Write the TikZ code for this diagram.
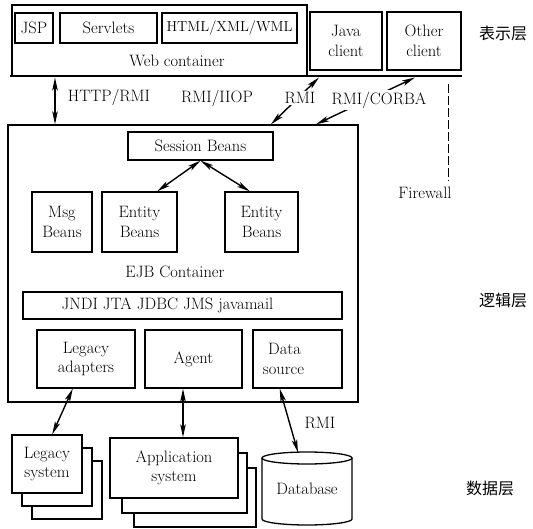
\documentclass[tikz,border=0pt]{standalone}
\usepackage{fontspec}
\newfontfamily\cjk{Noto Sans CJK SC}
\usetikzlibrary{arrows.meta}
\newcommand\fsz{\fontsize{16.5}{19.5}\selectfont}
\begin{document}
\begin{tikzpicture}[x=1pt,y=-1pt,
  box/.style={draw, line width=1.3pt, fill=white, align=center, inner sep=0pt, font=\fsz},
  txt/.style={inner sep=1pt, font=\fsz},
  lbl/.style={inner sep=1.5pt, fill=white, font=\fsz},
  dbl/.style={line width=1.4pt, {Stealth[length=13pt,width=5.5pt,inset=3pt]}-{Stealth[length=13pt,width=5.5pt,inset=3pt]}},
  layer/.style={inner sep=0pt, font=\cjk\fontsize{16}{18}\selectfont}]
\useasboundingbox (0,0) rectangle (533,529);

% ---------- presentation tier ----------
\node[box, minimum width=295, minimum height=71] (web) at (159.5,40.5) {};
\node[txt] (webl) at (177,61) {Web container};
\node[box, minimum width=38, minimum height=30] (jsp) at (34,28) {JSP};
\node[box, minimum width=97, minimum height=30] (serv) at (108.5,28) {Servlets};
\node[box, line width=1.7pt, minimum width=135, minimum height=30, font=\fontsize{14.5}{17}\selectfont] (html) at (229.5,28) {HTML/XML/WML};
\node[box, minimum width=72, minimum height=58] (java) at (346,41) {Java\\client};
\node[box, minimum width=74, minimum height=58] (other) at (424,41) {Other\\client};
\coordinate (busl) at (10,76);
\coordinate (busr) at (462,76);
\draw[line width=2.6pt] (busl) -- (busr);
\node[layer] (l1) at (503,33) {表示层};

% ---------- firewall ----------
\coordinate (fw1) at (448,84);
\coordinate (fw2) at (448,181);
\draw[line width=1pt, dash pattern=on 9pt off 3pt] (fw1) -- (fw2);
\node[txt] (fw) at (425,193) {Firewall};

% ---------- EJB container ----------
\node[box, minimum width=350, minimum height=277] (ejb) at (183,263.5) {};
\node[box, minimum width=145, minimum height=28] (sb) at (200.5,146) {Session Beans};
\node[box, minimum width=60, minimum height=60] (msg) at (62,222) {Msg\\Beans};
\node[box, minimum width=75, minimum height=60] (e1) at (139.5,222) {Entity\\Beans};
\node[box, minimum width=73, minimum height=60] (e2) at (261.5,222) {Entity\\Beans};
\node[txt] (ejbl) at (175,272) {EJB Container};
\node[box, minimum width=319, minimum height=27] (jndi) at (182.5,305.5) {JNDI JTA JDBC JMS javamail\hspace*{30pt}};
\node[box, minimum width=98, minimum height=58] (la) at (86,359) {Legacy\\adapters};
\node[box, minimum width=97, minimum height=58] (ag) at (193.5,359) {Agent};
\node[box, minimum width=89, minimum height=58] (ds) at (297.5,359) {Data\hspace*{26pt}\\source\hspace*{28pt}};
\node[layer] (l2) at (503,300) {逻辑层};

\draw[dbl] (sb.south) -- (e1.60);
\draw[dbl] (sb.south) -- (e2.111);

% ---------- connectors between tiers ----------
\coordinate (hx) at (55,100);
\draw[dbl] (hx |- 0,77.5) -- (hx |- ejb.north);
\coordinate (r1u) at (319,77.5);
\coordinate (r1d) at (271,100);
\draw[dbl] (r1u) -- (r1d |- ejb.north);
\coordinate (r2u) at (415,77.5);
\coordinate (r2d) at (316,100);
\draw[dbl] (r2u) -- (r2d |- ejb.north);
\node[txt] (hl) at (109,97) {HTTP/RMI};
\node[txt] (iiop) at (217,98) {RMI/IIOP};
\node[lbl] (rl) at (300,98) {RMI};
\node[lbl] (cl) at (379,100) {RMI/CORBA};

% ---------- data tier ----------
% legacy system stack
\draw[line width=1.3pt, fill=white] (32,461) rectangle (102,519);
\draw[line width=1.3pt, fill=white] (22,448) rectangle (92,506);
\node[box, minimum width=70, minimum height=58] (ls) at (47,464) {Legacy\\system};
% application system stack
\draw[line width=1.3pt, fill=white] (134,468) rectangle (256,527);
\draw[line width=1.3pt, fill=white] (122,453) rectangle (247,513);
\node[box, minimum width=128, minimum height=60] (app) at (174,468) {Application\\system};
% database cylinder
\node[txt, minimum width=90, minimum height=62] (db) at (307,489) {Database};
\draw[line width=1.3pt] (262,458) -- (262,519) arc[start angle=180, end angle=0, x radius=45, y radius=6] -- (352,458);
\draw[line width=1.3pt] (307,458) ellipse[x radius=45, y radius=6];
\coordinate (dbt) at (298,452.5);
\node[layer] (l3) at (490,488) {数据层};

\draw[dbl] (la.246) -- (ls.80);
\coordinate (ax) at (183,400);
\draw[dbl] (ax |- ag.south) -- (ax |- app.north);
\draw[dbl] (ds.239) -- (dbt);
\node[txt] (rmi2) at (320,423) {RMI};
\end{tikzpicture}
\end{document}
